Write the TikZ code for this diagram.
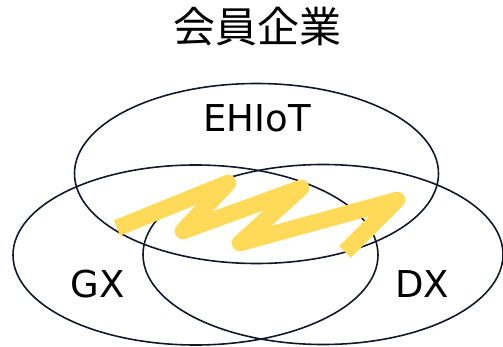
\documentclass[tikz,border=0pt]{standalone}
\usepackage{fontspec}
\setmainfont{DejaVu Sans}
\newfontfamily\cjkfont{Noto Sans CJK JP}
\definecolor{ringline}{RGB}{18,24,44}
\definecolor{zigyellow}{RGB}{255,217,88}
\tikzset{
  ring/.style={draw=ringline, line width=1.6pt},
  setlabel/.style={font=\fontsize{37}{37}\selectfont, inner sep=0pt, anchor=center},
  zigzag/.style={draw=zigyellow, line width=16.5pt, line join=round, line cap=butt}
}
\begin{document}
\begin{tikzpicture}[x=1pt,y=-1pt]
  \useasboundingbox (0,0) rectangle (503,347);
  % three overlapping sets
  \draw[ring] (256.5,173.5) ellipse [x radius=182, y radius=90];
  \draw[ring] (195.5,255) ellipse [x radius=182.5, y radius=90];
  \draw[ring] (323,254.5) ellipse [x radius=180, y radius=90];
  % highlighter scribble across the overlap
  \draw[zigzag] (117,228) -- (228,183) -- (183,231) -- (301,188)
    -- (240,243) -- (397,200) -- (345,252);
  % labels
  \node[font=\cjkfont\fontsize{42}{42}\selectfont, inner sep=0pt] (title) at (257,27) {会員企業};
  \node[setlabel] (ehiot) at (257,118.5) {EHIoT};
  \node[setlabel] (gx) at (98,284.5) {GX};
  \node[setlabel] (dx) at (422,284.5) {DX};
\end{tikzpicture}
\end{document}
